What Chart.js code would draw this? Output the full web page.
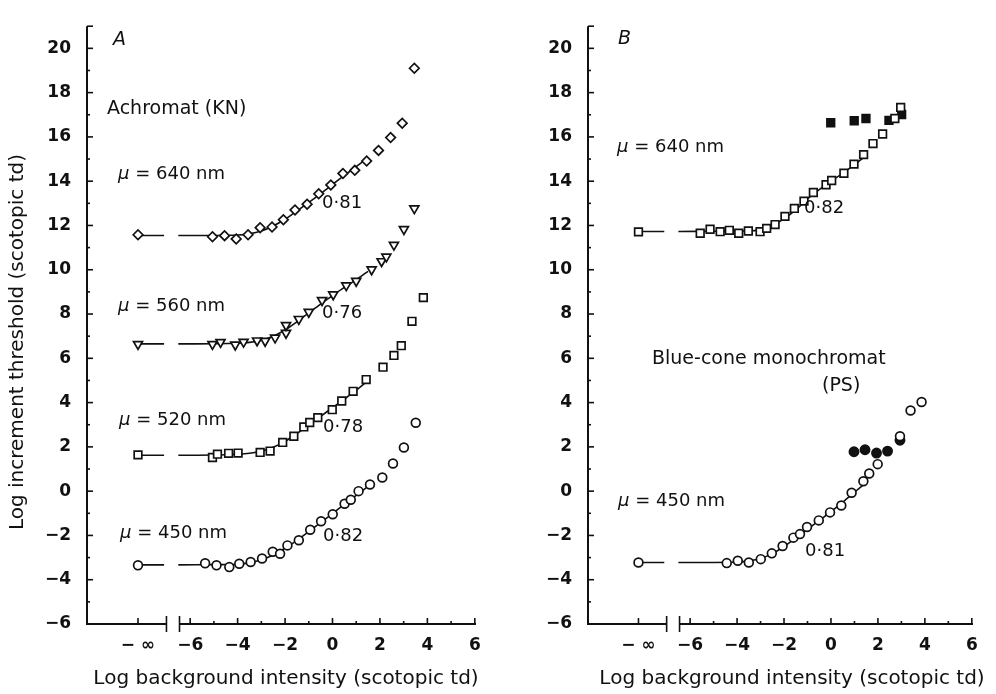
<!DOCTYPE html>
<html><head><meta charset="utf-8">
<script src="https://cdn.jsdelivr.net/npm/chart.js@4"></script>
<style>
html,body{margin:0;padding:0;background:#fff;width:996px;height:694px;overflow:hidden}
#cA{position:absolute;left:0;top:0}
#cB{position:absolute;left:500px;top:0}
</style>
</head><body>
<canvas id="cA" width="500" height="694"></canvas>
<canvas id="cB" width="496" height="694"></canvas>
<script>
// ---------- tick values and labels ----------
const yTickValues = [-6,-4,-2,0,2,4,6,8,10,12,14,16,18,20];
const xTickValues = [-8.2,-6,-4,-2,0,2,4,6];
const xTickLabels = ['\u2212 \u221E','\u22126','\u22124','\u22122','0','2','4','6'];
const X_INF = -8.2;

// ---------- Panel A: achromat (KN) ----------
const a640x = [-8.2,-5.06,-4.55,-4.06,-3.56,-3.05,-2.55,-2.07,-1.58,-1.07,-0.58,-0.07,0.44,0.94,1.44,1.94,2.45,2.94,3.45];
const a640y = [11.58,11.49,11.54,11.39,11.58,11.9,11.93,12.26,12.7,12.96,13.43,13.83,14.35,14.49,14.91,15.39,15.97,16.62,19.1];
const a560x = [-8.2,-5.06,-4.72,-4.1,-3.75,-3.18,-2.84,-2.42,-1.96,-1.96,-1.42,-1.0,-0.44,0.03,0.58,1.0,1.65,2.07,2.27,2.59,3.01,3.45];
const a560y = [6.64,6.64,6.73,6.61,6.74,6.8,6.78,6.93,7.14,7.49,7.77,8.09,8.62,8.88,9.29,9.49,10.01,10.38,10.59,11.12,11.83,12.77];
const a520x = [-8.2,-5.06,-4.85,-4.38,-3.98,-3.05,-2.63,-2.1,-1.63,-1.21,-0.96,-0.62,-0.01,0.39,0.87,1.42,2.13,2.59,2.9,3.35,3.83];
const a520y = [1.64,1.52,1.67,1.71,1.72,1.75,1.81,2.2,2.48,2.9,3.1,3.32,3.68,4.07,4.51,5.04,5.6,6.13,6.57,7.67,8.74];
const a450x = [-8.2,-5.37,-4.89,-4.35,-3.93,-3.45,-2.97,-2.52,-2.21,-1.9,-1.42,-0.94,-0.48,0.01,0.51,0.77,1.1,1.58,2.1,2.55,3.01,3.51];
const a450y = [-3.35,-3.26,-3.35,-3.43,-3.28,-3.2,-3.04,-2.74,-2.83,-2.45,-2.22,-1.74,-1.36,-1.04,-0.57,-0.39,0.0,0.3,0.62,1.25,1.97,3.09];

// ---------- Panel B: blue-cone monochromat (PS) ----------
const b640x = [-8.2,-5.57,-5.15,-4.72,-4.33,-3.93,-3.52,-3.02,-2.74,-2.38,-1.96,-1.56,-1.15,-0.75,-0.21,0.03,0.55,0.98,1.39,1.79,2.2,2.72,2.97];
const b640y = [11.71,11.65,11.83,11.72,11.78,11.65,11.75,11.72,11.87,12.04,12.41,12.77,13.1,13.49,13.84,14.03,14.36,14.77,15.2,15.7,16.13,16.83,17.33];
const b640fx = [-0.01,0.99,1.49,2.47,3.01];
const b640fy = [16.64,16.73,16.83,16.75,17.01];
const b450x = [-8.2,-4.44,-3.97,-3.5,-2.99,-2.52,-2.06,-1.6,-1.32,-1.02,-0.52,-0.04,0.44,0.88,1.38,1.63,1.99,2.94,3.39,3.86];
const b450y = [-3.22,-3.25,-3.14,-3.22,-3.07,-2.81,-2.48,-2.1,-1.94,-1.62,-1.32,-0.96,-0.65,-0.07,0.45,0.8,1.22,2.48,3.64,4.03];
const b450fx = [0.98,1.45,1.94,2.41,2.94];
const b450fy = [1.78,1.87,1.72,1.81,2.3];

// ---------- fitted template curves ----------
const fitX = [-6.5,-5,-4,-3.5,-3,-2.5,-2,-1.5,-1,-0.5,0,0.5,1,1.5];
const fitA640 = [11.55,11.55,11.57,11.62,11.75,11.98,12.28,12.65,13.04,13.44,13.85,14.26,14.66,15.07];
const fitA560 = [6.65,6.66,6.68,6.72,6.82,7.0,7.28,7.65,8.05,8.45,8.83,9.2,9.55,9.93];
const fitA520 = [1.62,1.63,1.67,1.71,1.8,1.98,2.25,2.6,2.98,3.38,3.77,4.16,4.56,5.0];
const fitA450 = [-3.33,-3.32,-3.3,-3.24,-3.1,-2.88,-2.58,-2.22,-1.83,-1.42,-1.01,-0.6,-0.19,0.22];
const fitB640 = [11.73,11.74,11.75,11.76,11.8,12.0,12.3,12.7,13.2,13.62,14.0,14.35,14.75,15.15];
const fitB450 = [-3.22,-3.22,-3.2,-3.15,-3.04,-2.82,-2.5,-2.12,-1.72,-1.32,-0.93,-0.5,-0.05,0.4];

// ---------- layout constants ----------
const FONT = "'DejaVu Sans', sans-serif";
const BREAK_L = -7.0, BREAK_R = -6.45, STUB_END = -7.1;
Chart.defaults.font.family = FONT;
Chart.defaults.color = '#111';

const minus = v => (v < 0 ? '\u2212' + Math.abs(v) : String(v));
const pts = (xs, ys) => xs.map((x, i) => ({x, y: ys[i]}));
function fitData(ys) {
  const d = [{x: X_INF, y: ys[0]}, {x: STUB_END, y: ys[0]}, {x: (STUB_END + fitX[0]) / 2, y: null}];
  return d.concat(pts(fitX, ys));
}
function lineDs(ys) {
  return {type: 'line', data: fitData(ys), borderColor: '#111', borderWidth: 1.6,
    pointRadius: 0, fill: false, spanGaps: false, tension: 0.3, order: 2};
}
function markDs(xs, ys, style, r, filled, rot) {
  return {type: 'scatter', data: pts(xs, ys), pointStyle: style, pointRadius: r,
    pointRotation: rot || 0, pointBorderWidth: 1.7, borderColor: '#111',
    pointBorderColor: '#111', pointBackgroundColor: filled ? '#111' : '#fff',
    backgroundColor: filled ? '#111' : '#fff', showLine: false, order: 1};
}

const axisPlugin = {
  id: 'paperAxes',
  beforeDatasetsDraw(chart) {
    const {ctx, chartArea: ca, scales: {x, y}} = chart;
    ctx.save();
    ctx.strokeStyle = '#111';
    ctx.lineWidth = 2;
    ctx.lineCap = 'butt';
    ctx.beginPath();
    ctx.moveTo(ca.left, ca.top); ctx.lineTo(ca.left, ca.bottom);
    ctx.stroke();
    ctx.lineWidth = 1.6;
    for (let v = -5; v <= 21; v++) {
      const py = y.getPixelForValue(v);
      const len = (v % 2 === 0 || v === 21) ? 6 : 3;
      ctx.beginPath(); ctx.moveTo(ca.left, py); ctx.lineTo(ca.left + len, py); ctx.stroke();
    }
    const yb = ca.bottom;
    const bl = x.getPixelForValue(BREAK_L), br = x.getPixelForValue(BREAK_R);
    ctx.lineWidth = 2;
    ctx.beginPath();
    ctx.moveTo(ca.left - 1, yb); ctx.lineTo(bl, yb);
    ctx.moveTo(br, yb); ctx.lineTo(ca.right, yb);
    ctx.stroke();
    ctx.lineWidth = 1.6;
    ctx.beginPath();
    ctx.moveTo(bl, yb - 8); ctx.lineTo(bl, yb + 8);
    ctx.moveTo(br, yb - 8); ctx.lineTo(br, yb + 8);
    const pinf = x.getPixelForValue(X_INF);
    ctx.moveTo(pinf, yb); ctx.lineTo(pinf, yb - 6);
    for (let v = -6; v <= 6; v++) {
      const px = x.getPixelForValue(v);
      const len = (v % 2 === 0) ? 6 : 3;
      ctx.moveTo(px, yb); ctx.lineTo(px, yb - len);
    }
    ctx.stroke();
    ctx.restore();
  },
  afterDraw(chart, args, opts) {
    const ctx = chart.ctx;
    ctx.save();
    ctx.fillStyle = '#111';
    ctx.textBaseline = 'middle';
    for (const a of opts.notes || []) {
      const size = a.size || 18;
      let x = a.x;
      if (a.mu) {
        ctx.font = `italic ${size}px ${FONT}`;
        ctx.textAlign = 'left';
        ctx.fillText('\u03BC', x, a.y);
        x += ctx.measureText('\u03BC').width;
      }
      ctx.font = `${a.italic ? 'italic ' : ''}${size}px ${FONT}`;
      ctx.textAlign = 'left';
      ctx.fillText(a.t, x, a.y);
    }
    ctx.font = `20px ${FONT}`;
    ctx.textAlign = 'center';
    if (opts.xTitle) ctx.fillText(opts.xTitle.t, opts.xTitle.x, opts.xTitle.y);
    if (opts.yTitle) {
      ctx.translate(opts.yTitle.x, opts.yTitle.y);
      ctx.rotate(-Math.PI / 2);
      ctx.fillText(opts.yTitle.t, 0, 0);
    }
    ctx.restore();
  }
};

function makeChart(id, datasets, yW, padRight, notes, xTitle, yTitle) {
  return new Chart(document.getElementById(id), {
    data: {datasets},
    options: {
      responsive: false, animation: false, devicePixelRatio: 1,
      layout: {padding: {top: 5, right: padRight, left: 0, bottom: 0}},
      plugins: {legend: {display: false}, tooltip: {enabled: false},
        paperAxes: {notes, xTitle, yTitle}},
      scales: {
        x: {type: 'linear', min: -10.35, max: 6.05,
          afterFit: s => { s.height = 70; },
          afterBuildTicks: s => { s.ticks = xTickValues.map(v => ({value: v})); },
          grid: {display: false, drawTicks: false}, border: {display: false},
          ticks: {autoSkip: false, maxRotation: 0, padding: 11,
            font: {size: 17, weight: 'bold'}, color: '#111',
            callback: v => { const i = xTickValues.indexOf(v); return i >= 0 ? xTickLabels[i] : ''; }}},
        y: {type: 'linear', min: -6, max: 21,
          afterFit: s => { s.width = yW; },
          afterBuildTicks: s => { s.ticks = yTickValues.map(v => ({value: v})); },
          grid: {display: false, drawTicks: false}, border: {display: false},
          ticks: {autoSkip: false, padding: 16, font: {size: 17, weight: 'bold'}, color: '#111',
            callback: v => minus(v)}}
      }
    },
    plugins: [axisPlugin]
  });
}

makeChart('cA', [
  lineDs(fitA640), lineDs(fitA560), lineDs(fitA520), lineDs(fitA450),
  markDs(a640x, a640y, 'rectRot', 4.8, false),
  markDs(a560x, a560y, 'triangle', 5.2, false, 180),
  markDs(a520x, a520y, 'rect', 5.4, false),
  markDs(a450x, a450y, 'circle', 4.4, false)
], 87, 24, [
  {t: 'A', x: 113, y: 40, italic: true, size: 19},
  {t: 'Achromat (KN)', x: 107, y: 109, size: 19},
  {mu: true, t: ' = 640 nm', x: 118, y: 174},
  {t: '0\u00B781', x: 322, y: 203},
  {mu: true, t: ' = 560 nm', x: 118, y: 306},
  {t: '0\u00B776', x: 322, y: 313},
  {mu: true, t: ' = 520 nm', x: 119, y: 420},
  {t: '0\u00B778', x: 323, y: 427},
  {mu: true, t: ' = 450 nm', x: 120, y: 533},
  {t: '0\u00B782', x: 323, y: 536}
], {t: 'Log background intensity (scotopic td)', x: 286, y: 679},
   {t: 'Log increment threshold (scotopic td)', x: 18, y: 342});

makeChart('cB', [
  lineDs(fitB640), lineDs(fitB450),
  markDs(b640x, b640y, 'rect', 5.4, false),
  markDs(b640fx, b640fy, 'rect', 5.4, true),
  markDs(b450x, b450y, 'circle', 4.4, false),
  markDs(b450fx, b450fy, 'circle', 4.6, true)
], 88, 23, [
  {t: 'B', x: 118, y: 39, italic: true, size: 19},
  {mu: true, t: ' = 640 nm', x: 117, y: 147},
  {t: '0\u00B782', x: 304, y: 208},
  {t: 'Blue-cone monochromat', x: 152, y: 359, size: 19},
  {t: '(PS)', x: 322, y: 386, size: 19},
  {mu: true, t: ' = 450 nm', x: 118, y: 501},
  {t: '0\u00B781', x: 305, y: 551}
], {t: 'Log background intensity (scotopic td)', x: 292, y: 679}, null);
</script>
</body></html>
